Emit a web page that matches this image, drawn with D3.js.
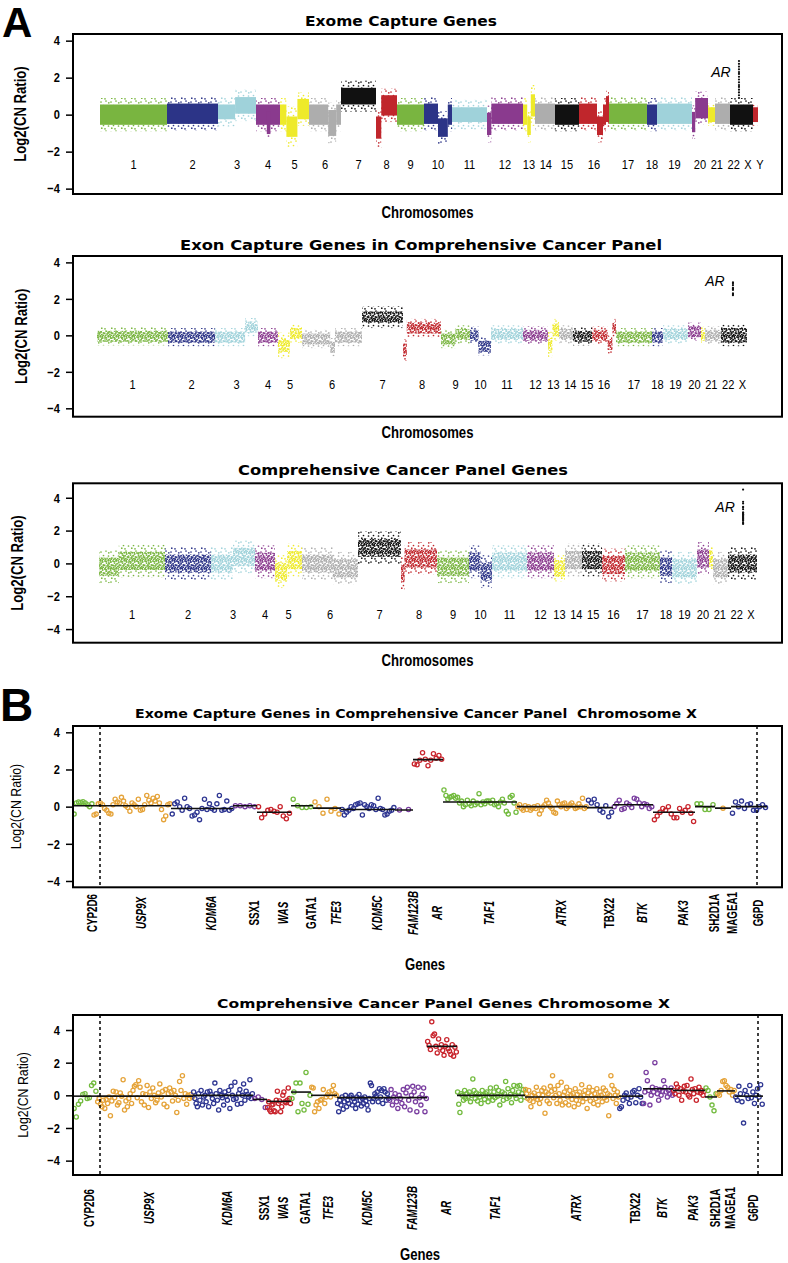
<!DOCTYPE html>
<html><head><meta charset="utf-8">
<script src="https://cdn.jsdelivr.net/npm/d3@7"></script>
<style>
body{margin:0;background:#fff;}
svg{display:block;}
</style></head><body>
<svg id="c" width="788" height="1263"></svg>
<script>
// ================= DATA =================
const chromNames = ["1","2","3","4","5","6","7","8","9","10","11","12","13","14","15","16","17","18","19","20","21","22","X","Y"];
const chromColors = ["#79b540","#2c3487","#9fd2da","#8a3a8e","#eeea2a","#adadad","#111111","#c0262c"];

// relative probe counts per chromosome (read from widths)
const sizesExome = [67,51,38,24,29,32,35,21,27,28,35,36,12,20,24,30,38,10,35,16,7,15,23,5];
const sizesExon  = [71,47,43,20,24,60,41,38,29,21,32,25,11,14,19,24,36,11,25,13,4,16,26];
const sizesCCP   = [66,46,44,20,27,56,43,36,32,23,35,27,11,17,20,23,35,12,25,12,4,15,29];

// segments: [chrom, fracStart, fracEnd, mean log2 ratio, core half-spread, outer half-spread]
const segExome = [
 ["1",0,1,0.0],["2",0,1,0.05],
 ["3",0,0.45,0.15,0.4,0.8],["3",0.45,1,0.5,0.45,0.85],
 ["4",0,1,0.0],["4",0.45,0.6,-0.45,0.6,0.9],
 ["5",0,0.22,0.0],["5",0.22,0.6,-0.65,0.55,1.1],["5",0.6,1,0.3],
 ["6",0,0.6,0.0],["6",0.6,0.85,-0.45,0.7,1.1],["6",0.85,1,0.0],
 ["7",0,1,1.0,0.45,0.85],
 ["8",0,0.25,-0.7,0.6,1.1],["8",0.25,1,0.5],
 ["9",0,1,0.0],
 ["10",0,0.5,0.05],["10",0.5,0.85,-0.7,0.5,0.9],["10",0.85,1,0.0],
 ["11",0,1,0.0,0.4,0.8],
 ["12",0,0.12,-0.5,0.6,1.0],["12",0.12,1,0.05],
 ["13",0,0.35,0.0],["13",0.35,0.65,-0.6,0.5,0.9],["13",0.65,1,0.5,0.6,1.1],
 ["14",0,1,0.05],["15",0,1,0.0],
 ["16",0,0.6,0.05],["16",0.6,0.8,-0.6,0.5,0.9],["16",0.8,0.9,0.0],["16",0.9,1,0.3,0.7,1.0],
 ["17",0,1,0.05],["18",0,1,0.0],["19",0,1,0.05],
 ["20",0,0.2,-0.4],["20",0.2,1,0.35],
 ["21",0,1,0.0,0.4,0.6],["22",0,1,0.05],["X",0,1,0.0],["Y",0,1,0.0,0.4,0.6]
];
const segExon = [
 ["1",0,1,-0.05],["2",0,1,-0.1],
 ["3",0,0.7,-0.1],["3",0.7,1,0.45],
 ["4",0,1,-0.1],
 ["5",0,0.5,-0.55,0.35,0.7],["5",0.5,1,0.1],
 ["6",0,0.47,-0.2],["6",0.47,0.55,-0.65,0.3,0.5],["6",0.55,1,-0.1],
 ["7",0,1,1.0,0.3,0.6],
 ["8",0,0.1,-0.8,0.35,0.6],["8",0.1,1,0.4],
 ["9",0,0.5,-0.2],["9",0.5,1,0.05],
 ["10",0,0.4,0.0],["10",0.4,1,-0.6],
 ["11",0,1,0.05],["12",0,1,0.0],
 ["13",0,0.4,-0.5,0.35,0.7],["13",0.4,1,0.3,0.35,0.6],
 ["14",0,1,0.05],["15",0,1,-0.05],
 ["16",0,0.65,0.0],["16",0.65,0.85,-0.5],["16",0.85,1,0.4],
 ["17",0,1,-0.1],["18",0,1,-0.1],["19",0,1,0.05],["20",0,1,0.2],
 ["21",0,1,0.0],["22",0,1,0.0],["X",0,1,0.0,0.4,0.6]
];
const segCCP = [
 ["1",0,0.3,-0.2],["1",0.3,1,0.15],["2",0,1,0.0],
 ["3",0,0.5,0.0],["3",0.5,1,0.4],["4",0,1,0.1],
 ["5",0,0.45,-0.5],["5",0.45,1,0.2],
 ["6",0,0.55,0.0],["6",0.55,1,-0.3],
 ["7",0,1,0.95,0.55,1.0],
 ["8",0,0.1,-0.6],["8",0.1,1,0.3],
 ["9",0,1,-0.2],["10",0,0.5,0.1],["10",0.5,1,-0.5],
 ["11",0,1,0.1],["12",0,1,0.1],["13",0,1,-0.3,0.5,0.8],["14",0,1,0.2],
 ["15",0,1,0.2],["16",0,1,-0.1],["17",0,1,0.1],["18",0,1,-0.2],
 ["19",0,1,-0.3],["20",0,1,0.3],["21",0,1,0.3,0.5,0.7],["22",0,1,-0.3],["X",0,1,0.0]
];

// AR exon values in the exome genome-wide plot
const arExome = [2.9,2.75,2.6,2.45,2.3,2.2,2.05,1.9,1.75,1.6,1.5,1.35,1.2,1.05,0.9];
const arPosFrac = [0.39,0.46,0.52];

// ---- Panel B ----
const genesX = ["CYP2D6","USP9X","KDM6A","SSX1","WAS","GATA1","TFE3","KDM5C","FAM123B","AR","TAF1","ATRX","TBX22","BTK","PAK3","SH2D1A","MAGEA1","G6PD"];
const geneColors = ["#73bb3f","#e5a339","#2e3692","#7a3ea0","#c9252d"];
const exonsB1 = [10,39,31,12,17,11,14,27,9,15,37,35,13,20,21,10,8,18];
const exonsB2 = [12,48,30,7,12,10,13,26,19,15,34,47,12,15,16,6,9,14];
const medB1 = [0.05,0.05,-0.1,0.05,-0.3,0.05,-0.08,-0.15,-0.18,2.53,0.25,0.0,-0.05,0.1,-0.3,0.0,-0.08,0.0];
const medB2 = [-0.05,-0.05,0.0,-0.25,-0.37,0.2,0.0,-0.14,-0.14,3.0,0.0,-0.1,-0.05,0.4,0.3,-0.1,0.27,-0.05];
const valsB1 = [
 [-0.4,0.2,0.25,0.22,0.27,0.2,0.1,0.0,0.15],
 [-0.45,-0.4,0.15,0.2,0.1,-0.1,-0.2,-0.35,-0.4,0.1,0.4,0.25,0.2,0.5,0.3,0.05,-0.05,-0.25,0.2,0.1,0.0,0.4,-0.2,-0.15,0.1,0.6,0.35,0.2,0.45,0.3,0.55,0.2,-0.15,-0.7,-0.5,0.1,0.15],
 [-0.4,0.15,0.25,0.0,-0.2,0.45,0.0,-0.1,-0.5,-0.45,-0.3,-0.7,-0.1,0.4,-0.15,0.15,-0.1,-0.2,0.15,0.6,-0.2,-0.15,0.3,-0.2,-0.1],
 [0.05,0.05,0.0,0.05,0.0],
 [0.0,-0.6,-0.4,-0.2,-0.15,-0.25,-0.3,0.0,-0.5,-0.65,-0.35],
 [0.4,0.05,-0.05,-0.05,0.0],
 [0.25,0.0,-0.35,0.4,-0.25,-0.1,-0.4],
 [-0.15,-0.45,-0.3,-0.2,0.0,-0.1,0.1,0.15,0.2,-0.45,0.1,0.0,-0.1,0.1,0.05,-0.15,0.45,-0.1,-0.15,-0.45,-0.4,-0.25,-0.2,-0.05],
 [-0.18,-0.15],
 [2.3,2.25,2.5,2.9,2.55,2.2,2.5,2.85,2.6,2.75,2.55],
 [0.9,0.6,0.4,0.5,0.55,0.6,0.45,0.5,0.2,0.3,0.0,0.1,0.35,0.15,0.05,0.3,0.1,0.2,0.7,0.1,0.25,0.15,0.3,0.3,0.2,0.35,0.1,0.15,0.0,0.25,0.4,0.2,-0.25,-0.4,0.5,0.6,0.2,-0.3],
 [0.0,0.1,-0.1,-0.2,0.05,-0.15,0.0,-0.2,-0.1,0.0,-0.1,0.05,-0.4,-0.2,0.0,0.1,0.35,0.2,0.0,-0.1,-0.3,-0.35,0.3,0.1,0.0,0.15,0.2,-0.1,0.0,0.1,0.2,0.05,-0.1,-0.05,0.15,0.0,0.45,-0.1,0.0],
 [0.35,0.2,0.4,0.1,-0.2,-0.3,0.05,-0.55,-0.3],
 [0.0,0.15,0.35,-0.15,-0.1,0.2,0.1,-0.05,0.45,0.4,0.2,0.0,0.15,0.1,-0.1,0.0],
 [-0.7,-0.5,-0.3,-0.1,-0.2,0.0,-0.4,-0.6,-0.6,-0.1,-0.3,-0.2,0.0,-0.35,-0.8],
 [0.15,0.15,-0.15,-0.15,0.1],
 [-0.08],
 [-0.35,0.25,0.0,0.3,-0.1,0.1,0.15,-0.2,-0.2,0.0,0.1,-0.05]
];
const valsB2 = [
 [-0.8,-1.33,-0.55,-0.35,0.05,0.1,-0.2,-0.15,0.6,0.75,0.25],
 [-0.4,-0.2,-0.55,-0.7,-0.3,-0.8,-0.25,-0.5,-0.1,-1.25,-0.35,0.25,-0.15,0.2,-0.6,-0.45,0.15,-0.05,0.95,-0.9,-0.35,-0.7,-0.2,0.1,-0.5,0.3,0.55,0.65,-0.15,0.9,0.5,-0.4,0.1,-0.6,0.05,0.6,-0.75,0.2,-0.2,0.45,0.0,-0.45,-0.3,0.15,0.7,-0.1,0.25,-0.55,0.35,-0.7,0.1,0.45,0.2,-0.35,0.3,0.0,-1.05,-0.3,0.85,0.3,1.2,-0.2,0.1,-0.55,0.0,-0.2,0.05,-0.1],
 [0.2,-0.2,-0.5,-0.7,0.1,-0.3,0.3,-0.6,-0.1,0.0,-0.4,0.2,-0.7,0.25,0.05,-0.2,-0.5,0.75,0.1,-0.3,-0.9,0.3,0.0,-0.15,-0.6,0.2,-0.05,-0.3,0.3,-0.8,0.55,0.0,-0.25,0.8,-0.2,-0.55,0.1,0.35,-0.5,0.0,0.7,-0.3,0.25,0.05,-0.1,0.95,-0.2,0.1],
 [-0.2,-0.1,-0.25,-0.75],
 [-0.75,-0.4,-0.9,-1.0,-0.6,-0.55,-0.95,-1.0,-0.3,0.25,-0.5,-0.35,-1.0,-0.7,0.0,0.2,-0.4,-0.45,-0.3,0.45,-0.2,-0.5],
 [-0.2,0.2,0.75,-1.0,0.75,-0.5,-0.9,1.4,-0.55,0.0],
 [0.5,0.45,-1.0,-0.6,-0.4,-0.8,-0.3,-0.25,0.35,-0.5,-0.1,0.05,0.2,-0.1,0.3,0.6,0.1,0.0],
 [-0.5,-1.0,-0.3,-0.6,-0.1,-0.85,-0.4,0.0,-0.7,-0.3,-0.5,-0.1,0.0,-0.6,-0.2,-0.4,-0.8,-0.1,-0.55,0.05,-0.3,-0.65,-0.2,-0.5,-0.1,-0.35,-0.6,-0.9,-0.2,0.75,0.6,-0.4,-0.2,0.1,-0.05,0.2,-0.4,0.4,-0.1,0.3,-0.5,0.4,0.2,-0.3,0.1,-0.2],
 [-0.3,0.35,-0.6,-0.1,0.1,-0.4,-0.8,0.0,-0.2,-0.5,0.35,-0.7,0.15,0.5,-0.3,-0.9,0.0,0.55,0.2,-0.4,-1.0,0.5,-0.15,-0.6,0.05,0.45,-1.0,-0.2],
 [3.3,3.05,2.8,4.5,3.65,3.75,3.0,2.6,3.45,2.9,3.1,2.75,2.45,3.0,3.4,2.85,2.7,2.5,3.1,2.4,2.95,2.65],
 [0.2,-0.55,-1.05,0.1,0.0,-0.3,0.3,-0.2,0.1,-0.1,0.2,-0.4,0.0,1.0,0.3,-0.2,0.15,-0.35,0.05,-0.1,-0.5,0.3,0.0,-0.25,0.1,0.2,-0.4,-0.1,0.45,0.0,-0.3,0.2,-0.15,0.5,-0.05,0.3,-0.6,0.0,0.2,-0.3,0.1,0.85,-0.2,0.4,-0.1,0.05,-0.45,0.3,0.6,0.0,-0.2,0.55,0.2,0.6,-0.3,0.1,0.35,-0.1],
 [0.35,0.1,-0.2,0.3,-0.3,-0.7,0.0,-0.4,0.15,-0.1,0.5,-0.25,0.05,-0.5,-0.2,0.3,0.0,0.45,-1.1,0.2,-0.35,0.1,-0.5,0.55,0.25,1.2,-0.15,0.35,0.0,-0.5,0.6,0.1,-0.3,0.8,-0.6,0.0,0.2,-0.45,0.5,-0.1,-0.6,0.3,0.0,-0.25,0.1,-0.7,0.4,-0.3,0.05,-0.55,0.2,-0.1,0.65,-0.4,0.0,0.3,-0.2,-0.8,0.15,0.5,-0.35,0.0,0.3,-0.5,0.1,-0.2,0.4,-0.6,-0.1,0.2,0.0,-0.4,0.45,-0.15,0.3,-0.3,0.1,-1.25,0.0,1.2,0.6,-0.2,0.35,0.0,-0.5,0.2,-0.1],
 [-0.8,-0.7,-0.3,0.0,0.15,-0.2,-0.5,-0.1,0.2,0.3,-0.45,0.0,0.4,-0.1,-0.5],
 [-0.5,0.2,1.4,0.9,0.3,-0.6,0.0,0.5,0.2,2.0,0.4,0.1,-0.3,0.35,0.0,0.25,0.9,0.5,0.2,-0.1,0.3,0.1,0.45,0.0],
 [0.3,0.1,0.7,0.5,0.0,0.4,-0.3,0.25,0.55,0.2,0.6,0.0,-0.1,1.0,0.35,0.1,0.4,-0.3,0.2,0.5,0.15,0.3,0.0,0.25],
 [0.45,0.3,-0.1,-0.6,-0.95,0.1],
 [0.1,0.0,0.3,0.85,0.9,0.6,0.5,0.2,0.35,0.0,0.3],
 [-0.1,-0.3,0.55,0.1,-0.4,-1.7,0.3,0.0,-0.2,0.6,-0.15,0.2,-0.5,0.0,0.4,-0.1,0.65,-0.55]
];
const dashB1 = [13.5,342];
const dashB2 = [13.5,342.5];
const yTicks = [-4,-2,0,2,4];
const uprightGenes = ["CYP2D6","SSX1","GATA1","TBX22","SH2D1A","MAGEA1","G6PD"];

// ================= DRAWING =================
const svg = d3.select("#c");
const defs = svg.append("defs");
const L = 73, R = 782;
const NF = '"Liberation Sans Narrow","Arial Narrow","Liberation Sans",Arial,sans-serif';
const WF = '"DejaVu Sans",Verdana,sans-serif';

function hasFont(name){
  const t = svg.append("text").attr("font-size",40).attr("font-family",`"${name}",monospace`).text("abcdefghijkWMil12");
  const w1 = t.node().getComputedTextLength();
  t.attr("font-family","monospace");
  const w2 = t.node().getComputedTextLength();
  t.remove();
  return Math.abs(w1-w2) > 1;
}
const NARROW_OK = hasFont("Liberation Sans Narrow");
function narrow(sel, k){
  sel.each(function(){
    const w = this.getComputedTextLength();
    d3.select(this).attr("data-w", NARROW_OK ? w : w*(k||0.82));
    if (!NARROW_OK) d3.select(this).attr("textLength", w*(k||0.82)).attr("lengthAdjust","spacingAndGlyphs");
  });
  return sel;
}

// dot textures (style)
const coreDots = [[1,1],[4.2,0.7],[6.7,2],[2.6,3.1],[5.1,3.8],[7.4,5],[0.7,5.2],[3.1,6],[5.8,6.6],[1.7,7.4],[4.4,7.6],[7.2,7.4],[2.1,1.6],[6.2,0.6],[3.9,4.9]];
const haloDots = [[1,2],[6,1],[3.5,5.5],[8.5,6],[5,8.8],[8.8,2.8],[1.8,8.2]];
chromColors.forEach((c,i)=>{
  const p = defs.append("pattern").attr("id","core"+i).attr("patternUnits","userSpaceOnUse").attr("width",8).attr("height",8);
  coreDots.forEach(d=>p.append("circle").attr("cx",d[0]).attr("cy",d[1]).attr("r",0.95).attr("fill",c));
  const h = defs.append("pattern").attr("id","halo"+i).attr("patternUnits","userSpaceOnUse").attr("width",10).attr("height",10);
  haloDots.forEach(d=>h.append("circle").attr("cx",d[0]).attr("cy",d[1]).attr("r",0.85).attr("fill",c));
});

function yAxis(g, y){
  const ax = g.append("g").attr("transform",`translate(${L},0)`)
    .call(d3.axisLeft(y).tickValues(yTicks).tickSize(7).tickPadding(6).tickFormat(d3.format("d")));
  ax.select(".domain").remove();
  ax.selectAll(".tick line").attr("stroke","#000").attr("stroke-width",1.5);
  ax.selectAll(".tick text").attr("font-family",NF).attr("font-size",13.5).attr("font-weight","bold").attr("fill","#000");
  narrow(ax.selectAll(".tick text"));
}
function title(g, txt, cx, by, size, w){
  g.append("text").attr("x",cx).attr("y",by).attr("text-anchor","middle")
   .attr("font-family",WF).attr("font-weight","bold").attr("font-size",size)
   .style("white-space","pre").attr("textLength",w).attr("lengthAdjust","spacingAndGlyphs").text(txt);
}
function box(g, top, bottom){
  g.append("rect").attr("x",L).attr("y",top).attr("width",R-L).attr("height",bottom-top)
   .attr("fill","none").attr("stroke","#000").attr("stroke-width",2);
}
function ylabel(g, txt, x, cy, bold, size){
  const t = g.append("text").attr("transform",`translate(${x},${cy}) rotate(-90)`).attr("text-anchor","middle")
   .attr("dominant-baseline","central").attr("font-family",NF).attr("font-size",size)
   .attr("font-weight",bold?"bold":"normal").text(txt);
  narrow(t);
}

// ---- Panel A ----
const panelsA = [
 {id:"a1", name:"Exome Capture Genes", sizes:sizesExome, segs:segExome, ar:arExome, arFrac:arPosFrac[0],
  top:34, bottom:194, yLo:-4.29, yHi:4.36, padL:27, padR:24, tX:401, tY:26, tS:14, tW:192,
  labY:169, axY:217.5, ylX:20, solid:true, core:0.55, halo:0.9},
 {id:"a2", name:"Exon Capture Genes in Comprehensive Cancer Panel", sizes:sizesExon, segs:segExon, ar:valsB1[9], arFrac:arPosFrac[1],
  top:256, bottom:416.7, yLo:-4.46, yHi:4.35, padL:24, padR:35, tX:421, tY:249.5, tS:13.5, tW:482,
  labY:389, axY:438, ylX:21.5, solid:false, core:0.3, halo:0.5},
 {id:"a3", name:"Comprehensive Cancer Panel Genes", sizes:sizesCCP, segs:segCCP, ar:valsB2[9], arFrac:arPosFrac[2],
  top:483.3, bottom:642.7, yLo:-4.83, yHi:4.88, padL:26, padR:25, tX:403, tY:475, tS:14, tW:330,
  labY:619, axY:665.5, ylX:17, solid:false, core:0.55, halo:1.0}
];

panelsA.forEach(cfg=>{
  const g = svg.append("g");
  const names = chromNames.slice(0, cfg.sizes.length);
  const total = d3.sum(cfg.sizes);
  const starts = [0, ...d3.cumsum(cfg.sizes)];
  const x = d3.scaleLinear().domain([-cfg.padL, total+cfg.padR]).range([L,R]);
  const y = d3.scaleLinear().domain([cfg.yLo, cfg.yHi]).range([cfg.bottom, cfg.top]);
  defs.append("clipPath").attr("id","clip"+cfg.id).append("rect")
    .attr("x",L).attr("y",cfg.top).attr("width",R-L).attr("height",cfg.bottom-cfg.top);
  const plot = g.append("g").attr("clip-path",`url(#clip${cfg.id})`);
  const segs = cfg.segs.map(s=>{
    const ci = names.indexOf(s[0]);
    return {ci, x0:starts[ci]+s[1]*cfg.sizes[ci], x1:starts[ci]+s[2]*cfg.sizes[ci], m:s[3],
            c:s[4]!==undefined?s[4]:cfg.core, h:s[5]!==undefined?s[5]:cfg.halo};
  });
  plot.selectAll("rect.halo").data(segs).join("rect").attr("class","halo")
    .attr("x",d=>x(d.x0)).attr("width",d=>x(d.x1)-x(d.x0))
    .attr("y",d=>y(d.m+d.h)).attr("height",d=>y(d.m-d.h)-y(d.m+d.h))
    .attr("fill",d=>`url(#halo${d.ci%8})`);
  plot.selectAll("rect.core").data(segs).join("rect").attr("class","core")
    .attr("x",d=>x(d.x0)).attr("width",d=>x(d.x1)-x(d.x0))
    .attr("y",d=>y(d.m+d.c)).attr("height",d=>y(d.m-d.c)-y(d.m+d.c))
    .attr("fill",d=> cfg.solid ? chromColors[d.ci%8] : `url(#core${d.ci%8})`);
  // AR
  const xi = names.indexOf("X");
  const arX = x(starts[xi] + cfg.arFrac*cfg.sizes[xi]);
  plot.selectAll("circle.ar").data(cfg.ar).join("circle").attr("class","ar")
    .attr("cx",arX).attr("cy",d=>y(d)).attr("r",1.1).attr("fill","#111");
  g.append("text").attr("x",arX-18).attr("y",y(d3.median(cfg.ar))-3).attr("text-anchor","middle")
    .attr("font-family",'"Liberation Sans",Arial,sans-serif').attr("font-style","italic").attr("font-size",14).text("AR");
  box(g, cfg.top, cfg.bottom);
  yAxis(g, y);
  const lab = g.selectAll("text.chr").data(names).join("text").attr("class","chr")
    .attr("x",(d,i)=>x(starts[i]+cfg.sizes[i]/2)).attr("y",cfg.labY).attr("text-anchor","middle")
    .attr("font-family",NF).attr("font-size",13.5).text(d=>d);
  narrow(lab);
  // push crowded labels apart (layout)
  let prevX = -1e9, prevW = 0;
  lab.each(function(){
    const t = d3.select(this);
    const w = +t.attr("data-w");
    let cx = +t.attr("x");
    const minX = prevX + prevW/2 + w/2 + 4.5;
    if (cx < minX) { cx = minX; t.attr("x", cx); }
    prevX = cx; prevW = w;
  });
  title(g, cfg.name, cfg.tX, cfg.tY, cfg.tS, cfg.tW);
  const at = g.append("text").attr("x",(L+R)/2).attr("y",cfg.axY).attr("text-anchor","middle")
    .attr("font-family",NF).attr("font-weight","bold").attr("font-size",16).text("Chromosomes");
  narrow(at);
  ylabel(g, "Log2(CN Ratio)", cfg.ylX, (cfg.top+cfg.bottom)/2, true, 16);
});

// ---- Panel B ----
const panelsB = [
 {id:"b1", name:"Exome Capture Genes in Comprehensive Cancer Panel  Chromosome X", exons:exonsB1, vals:valsB1, med:medB1, dash:dashB1,
  top:726, bottom:887.3, yLo:-4.34, yHi:4.34, tX:416, tY:717.5, tS:11.5, tW:562, labY:913, labOff:9, gY:970, gX:425, ylX:15},
 {id:"b2", name:"Comprehensive Cancer Panel Genes Chromosome X", exons:exonsB2, vals:valsB2, med:medB2, dash:dashB2,
  top:1015, bottom:1175, yLo:-4.88, yHi:4.92, tX:443.5, tY:1008, tS:13, tW:453, labY:1208, labOff:4, gY:1260, gX:420, ylX:22}
];
panelsB.forEach(cfg=>{
  const g = svg.append("g");
  const starts = [0, ...d3.cumsum(cfg.exons)];
  const x = d3.scaleLinear().domain([0, 354.5]).range([L,R]);
  const y = d3.scaleLinear().domain([cfg.yLo, cfg.yHi]).range([cfg.bottom, cfg.top]);
  defs.append("clipPath").attr("id","clip"+cfg.id).append("rect")
    .attr("x",L).attr("y",cfg.top).attr("width",R-L).attr("height",cfg.bottom-cfg.top);
  const plot = g.append("g").attr("clip-path",`url(#clip${cfg.id})`);
  const pts = [];
  genesX.forEach((gn,i)=>{
    const v = cfg.vals[i], n = v.length, w = starts[i+1]-starts[i];
    v.forEach((val,j)=>pts.push({gi:i, xv:starts[i]+(j+0.5)*w/n, v:val}));
  });
  plot.selectAll("circle").data(pts).join("circle")
    .attr("cx",d=>x(d.xv)).attr("cy",d=>y(d.v)).attr("r",2.1)
    .attr("fill","none").attr("stroke",d=>geneColors[d.gi%5]).attr("stroke-width",1.3);
  plot.selectAll("line.med").data(genesX).join("line").attr("class","med")
    .attr("x1",(d,i)=>x(starts[i])).attr("x2",(d,i)=>x(starts[i+1]))
    .attr("y1",(d,i)=>y(cfg.med[i])).attr("y2",(d,i)=>y(cfg.med[i]))
    .attr("stroke","#111").attr("stroke-width",1.6);
  plot.selectAll("line.dash").data(cfg.dash).join("line").attr("class","dash")
    .attr("x1",d=>x(d)).attr("x2",d=>x(d)).attr("y1",cfg.top).attr("y2",cfg.bottom)
    .attr("stroke","#000").attr("stroke-width",1.5).attr("stroke-dasharray","3,3");
  box(g, cfg.top, cfg.bottom);
  yAxis(g, y);
  const gl = g.selectAll("text.gene").data(genesX).join("text").attr("class","gene")
    .attr("transform",(d,i)=>`translate(${x((starts[i]+starts[i+1])/2)+cfg.labOff},${cfg.labY}) rotate(-90)`)
    .attr("text-anchor","middle").attr("dominant-baseline","central")
    .attr("font-family",NF).attr("font-weight","bold").attr("font-size",14)
    .attr("font-style",d=>uprightGenes.includes(d)?"normal":"italic").text(d=>d);
  narrow(gl, 0.7);
  title(g, cfg.name, cfg.tX, cfg.tY, cfg.tS, cfg.tW);
  const at = g.append("text").attr("x",cfg.gX).attr("y",cfg.gY).attr("text-anchor","middle")
    .attr("font-family",NF).attr("font-weight","bold").attr("font-size",16).text("Genes");
  narrow(at);
  ylabel(g, "Log2(CN Ratio)", cfg.ylX, (cfg.top+cfg.bottom)/2, false, 15);
});

// panel letters
svg.append("text").attr("x",2).attr("y",37).attr("font-family",'"Liberation Sans",Arial,sans-serif')
  .attr("font-weight","bold").attr("font-size",42).text("A");
svg.append("text").attr("x",0).attr("y",721).attr("font-family",'"Liberation Sans",Arial,sans-serif')
  .attr("font-weight","bold").attr("font-size",46).text("B");
</script>
</body></html>
